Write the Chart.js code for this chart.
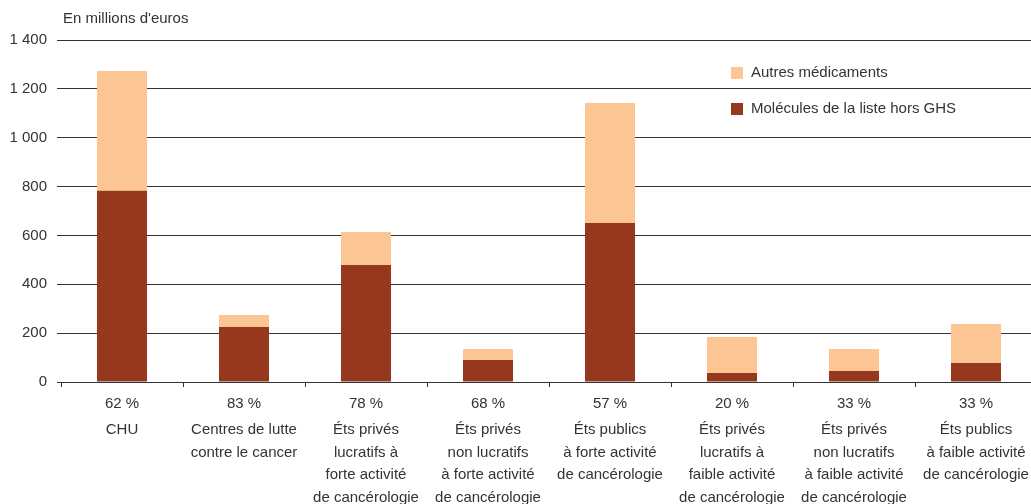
<!DOCTYPE html>
<html>
<head>
<meta charset="utf-8">
<script src="https://cdn.jsdelivr.net/npm/chart.js@4"></script>
<style>
  html, body { margin: 0; padding: 0; background: #fff; overflow: hidden; }
  #wrap { position: absolute; left: 0; top: 0; width: 1037px; height: 504px; }
</style>
</head>
<body>
<div id="wrap"><canvas id="chart"></canvas></div>
<script>
// part des molécules de la liste hors GHS
var shareLabels = ['62 %', '83 %', '78 %', '68 %', '57 %', '20 %', '33 %', '33 %'];
var typeLabels = [
	['CHU'],
	['Centres de lutte', 'contre le cancer'],
	['Éts privés', 'lucratifs à', 'forte activité', 'de cancérologie'],
	['Éts privés', 'non lucratifs', 'à forte activité', 'de cancérologie'],
	['Éts publics', 'à forte activité', 'de cancérologie'],
	['Éts privés', 'lucratifs à', 'faible activité', 'de cancérologie'],
	['Éts privés', 'non lucratifs', 'à faible activité', 'de cancérologie'],
	['Éts publics', 'à faible activité', 'de cancérologie']
];
var horsGHS = [783, 225, 479, 90, 651, 37, 45, 78];
var autres = [490, 49, 135, 45, 491, 147, 90, 159];
var yTicks = [0, 200, 400, 600, 800, 1000, 1200, 1400];

var FONT = "'Liberation Sans Narrow', 'Arial Narrow', 'Liberation Sans', sans-serif";
var TXT = '#333333';
var LINE = '#333333';

var extras = {
	id: 'extras',
	afterDraw: function(chart) {
		var c = chart.ctx;
		c.save();
		c.font = '15px ' + FONT;
		c.fillStyle = TXT;
		c.textBaseline = 'middle';
		c.textAlign = 'left';
		c.fillText("En millions d'euros", 63, 19);
		// légende
		var items = [chart.data.datasets[1], chart.data.datasets[0]];
		items.forEach(function(ds, i) {
			var cy = 73 + i * 36;
			c.fillStyle = ds.backgroundColor;
			c.fillRect(731, cy - 6, 12, 12);
			c.fillStyle = TXT;
			c.fillText(ds.label, 751, cy);
		});
		c.restore();
	}
};

var ctx = document.getElementById('chart');

var myChart = new Chart(ctx, {
	type: 'bar',
	data: {
		labels: shareLabels,
		datasets: [
			{
				label: 'Molécules de la liste hors GHS',
				data: horsGHS,
				backgroundColor: '#96381E',
				xAxisID: 'x',
				stack: 's'
			},
			{
				label: 'Autres médicaments',
				data: autres,
				backgroundColor: '#FCC694',
				xAxisID: 'x',
				stack: 's'
			}
		]
	},
	options: {
		responsive: true,
		maintainAspectRatio: false,
		animation: false,
		layout: { padding: { top: 40, left: 0, right: 0, bottom: 0 } },
		datasets: { bar: { barPercentage: 0.41, categoryPercentage: 1 } },
		plugins: {
			legend: { display: false },
			tooltip: { enabled: false }
		},
		scales: {
			x: {
				type: 'category',
				position: 'bottom',
				stacked: true,
				offset: true,
				grid: {
					offset: true,
					drawOnChartArea: false,
					drawTicks: true,
					tickLength: 5,
					color: LINE
				},
				border: { display: true, color: LINE, width: 1 },
				ticks: {
					color: TXT,
					font: { family: FONT, size: 15 },
					padding: 8,
					maxRotation: 0,
					autoSkip: false
				},
				afterFit: function(scale) { scale.height = 37; }
			},
			x2: {
				type: 'category',
				position: 'bottom',
				labels: typeLabels,
				offset: true,
				grid: { display: false, drawTicks: false },
				border: { display: false },
				ticks: {
					color: TXT,
					font: { family: FONT, size: 15, lineHeight: 1.5 },
					padding: 0,
					maxRotation: 0,
					autoSkip: false
				},
				afterFit: function(scale) { scale.height = 85; }
			},
			y: {
				stacked: true,
				min: 0,
				max: 1400,
				afterBuildTicks: function(scale) {
					scale.ticks = yTicks.map(function(v) { return { value: v }; });
				},
				grid: {
					color: LINE,
					lineWidth: 1,
					tickLength: 4
				},
				border: { display: false },
				ticks: {
					color: TXT,
					font: { family: FONT, size: 15 },
					padding: 10,
					callback: function(v) {
						return String(v).replace(/\B(?=(\d{3})+(?!\d))/g, ' ');
					}
				},
				afterFit: function(scale) { scale.width = 61; }
			}
		}
	},
	plugins: [extras]
});
</script>
</body>
</html>
